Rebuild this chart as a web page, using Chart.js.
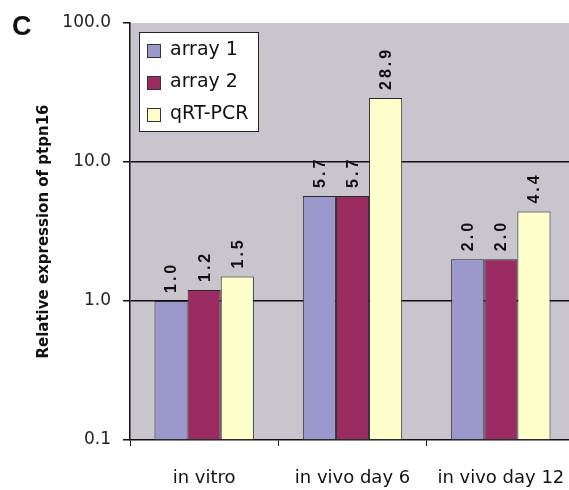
<!DOCTYPE html>
<html>
<head>
<meta charset="utf-8">
<script src="https://cdn.jsdelivr.net/npm/chart.js@4"></script>
<style>
  html, body { margin: 0; padding: 0; background: #fff; overflow: hidden; }
  #wrap { position: relative; width: 575px; height: 490px; }
</style>
</head>
<body>
<div id="wrap"><canvas id="chart"></canvas></div>
<script>
// chart values
const categories = ['in vitro', 'in vivo day 6', 'in vivo day 12'];
const seriesNames = ['array 1', 'array 2', 'qRT-PCR'];
const array1 = [1.0, 5.7, 2.0];
const array2 = [1.2, 5.7, 2.0];
const qrtpcr = [1.5, 28.9, 4.4];
const yTicks = [0.1, 1, 10, 100];

const colors = ['#9b99cc', '#9b2c62', '#ffffcc'];
const plotBg = '#c9c5cd';

// grey fill behind the bars
const plotBackground = {
  id: 'plotBackground',
  beforeDraw(chart) {
    const { ctx, chartArea: a } = chart;
    ctx.save();
    ctx.fillStyle = plotBg;
    ctx.fillRect(a.left, a.top, a.right - a.left, a.bottom - a.top);
    ctx.restore();
  }
};

// rotated numbers above each bar
const barLabels = {
  id: 'barLabels',
  afterDatasetsDraw(chart) {
    const ctx = chart.ctx;
    ctx.save();
    ctx.font = 'bold 16px "Liberation Sans", Arial, sans-serif';
    ctx.letterSpacing = '3px';
    ctx.fillStyle = '#111';
    ctx.textAlign = 'left';
    ctx.textBaseline = 'middle';
    chart.data.datasets.forEach((ds, i) => {
      chart.getDatasetMeta(i).data.forEach((bar, j) => {
        ctx.save();
        ctx.translate(bar.x + 1, bar.y - 8);
        ctx.rotate(-Math.PI / 2);
        ctx.fillText(ds.data[j].toFixed(1), 0, 0);
        ctx.restore();
      });
    });
    ctx.restore();
  }
};

// boxed legend sitting inside the plot, like the original
const boxLegend = {
  id: 'boxLegend',
  afterDraw(chart) {
    const { ctx, chartArea: a } = chart;
    const x = a.left + 9, y = a.top + 9;
    ctx.save();
    ctx.fillStyle = '#fff';
    ctx.fillRect(x, y, 119, 99);
    ctx.strokeStyle = '#222';
    ctx.lineWidth = 1;
    ctx.strokeRect(x + 0.5, y + 0.5, 119, 99);
    ctx.font = '19px "DejaVu Sans", sans-serif';
    ctx.textBaseline = 'middle';
    chart.data.datasets.forEach((ds, i) => {
      const cy = y + 18 + i * 32;
      ctx.fillStyle = ds.backgroundColor;
      ctx.fillRect(x + 8, cy - 6, 13, 13);
      ctx.strokeStyle = '#333';
      ctx.strokeRect(x + 8.5, cy - 5.5, 13, 13);
      ctx.fillStyle = '#111';
      ctx.fillText(ds.label, x + 31, cy, 84);
    });
    ctx.restore();
  }
};

// panel letter
const panelLetter = {
  id: 'panelLetter',
  afterDraw(chart) {
    const ctx = chart.ctx;
    ctx.save();
    ctx.font = 'bold 27px "Liberation Sans", Arial, sans-serif';
    ctx.fillStyle = '#111';
    ctx.textBaseline = 'alphabetic';
    ctx.fillText('C', 12, 35);
    ctx.restore();
  }
};

new Chart(document.getElementById('chart'), {
  type: 'bar',
  data: {
    labels: categories,
    datasets: [
      { label: seriesNames[0], data: array1, backgroundColor: colors[0] },
      { label: seriesNames[1], data: array2, backgroundColor: colors[1] },
      { label: seriesNames[2], data: qrtpcr, backgroundColor: colors[2] }
    ].map(d => Object.assign(d, {
      borderColor: '#2a2a2a',
      borderWidth: 1,
      borderSkipped: false,
      categoryPercentage: 0.67,
      barPercentage: 1.0
    }))
  },
  options: {
    responsive: true,
    maintainAspectRatio: false,
    animation: false,
    layout: { padding: { left: 35, top: 23, right: 0, bottom: 0 } },
    plugins: {
      legend: { display: false },
      tooltip: { enabled: false }
    },
    scales: {
      x: {
        grid: {
          drawOnChartArea: false,
          tickColor: '#111',
          tickLength: 6,
          offset: true
        },
        border: { color: '#111', width: 1.5 },
        ticks: {
          color: '#111',
          font: { family: '"DejaVu Sans", sans-serif', size: 18 },
          padding: 22,
          maxRotation: 0
        },
        afterFit(scale) {
          scale.height = 50;
          // labels fit inside their categories, no side padding needed
          scale.paddingLeft = 0;
          scale.paddingRight = 0;
        }
      },
      y: {
        type: 'logarithmic',
        min: 0.1,
        max: 100,
        afterBuildTicks(scale) {
          scale.ticks = yTicks.map(v => ({ value: v }));
        },
        grid: {
          color: ctx => (ctx.tick && (ctx.tick.value === 1 || ctx.tick.value === 10)) ? '#111' : 'rgba(0,0,0,0)',
          lineWidth: 1.5,
          tickColor: '#111',
          tickLength: 7
        },
        border: { color: '#111', width: 1.5 },
        ticks: {
          color: '#222',
          font: { family: '"DejaVu Sans", sans-serif', size: 17 },
          padding: 12,
          callback: v => Number(v).toFixed(1)
        },
        title: {
          display: true,
          text: 'Relative expression of ptpn16',
          color: '#111',
          font: { family: '"DejaVu Sans", sans-serif', size: 15, weight: 'bold' },
          padding: 0
        },
        afterFit(scale) { scale.width = 95; }
      }
    }
  },
  plugins: [plotBackground, barLabels, boxLegend, panelLetter]
});
</script>
</body>
</html>
